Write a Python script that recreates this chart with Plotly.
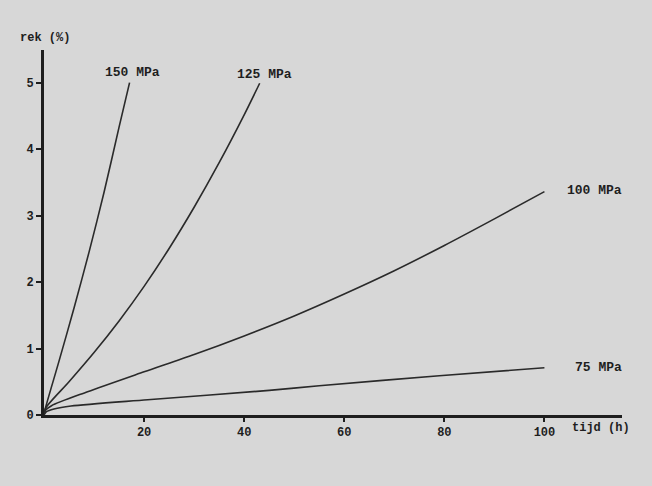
import plotly.graph_objects as go

# ---- data ----
t_150 = [0, 0.2, 3, 6, 9, 12, 15, 17.1]
e_150 = [0, 0.08, 0.81, 1.61, 2.45, 3.35, 4.33, 5.0]

t_125 = [0, 0.3, 5, 10, 15, 20, 25, 30, 35, 40, 43.1]
e_125 = [0, 0.1, 0.5, 0.94, 1.415, 1.935, 2.505, 3.125, 3.795, 4.515, 4.99]

t_100 = [0, 0.3, 1.5, 8.7, 20, 30, 40, 50, 60, 70, 80, 90, 100]
e_100 = [0, 0.07, 0.14, 0.35, 0.65, 0.91, 1.19, 1.49, 1.82, 2.17, 2.55, 2.95, 3.36]

t_75 = [0, 0.5, 2, 5.4, 20.7, 45, 55, 79, 100]
e_75 = [0, 0.05, 0.09, 0.135, 0.23, 0.37, 0.44, 0.59, 0.71]

series_labels = ["150 MPa", "125 MPa", "100 MPa", "75 MPa"]
x_ticks = [20, 40, 60, 80, 100]
y_ticks = [0, 1, 2, 3, 4, 5]

FONT = "Liberation Mono"
INK = "#1e1e1e"
LINE = "#2a2a2a"
BG = "#d7d7d7"

series = [(t_150, e_150), (t_125, e_125), (t_100, e_100), (t_75, e_75)]
# label placement relative to each curve's end point (pixels)
label_pos = [
    dict(xanchor="center", yanchor="middle", xshift=3, yshift=10),
    dict(xanchor="center", yanchor="middle", xshift=5, yshift=9),
    dict(xanchor="left", yanchor="middle", xshift=21, yshift=1),
    dict(xanchor="left", yanchor="middle", xshift=29, yshift=0),
]

fig = go.Figure()
annotations = []
for (t, e), name, lp in zip(series, series_labels, label_pos):
    fig.add_trace(go.Scatter(
        x=t, y=e, mode="lines", name=name,
        line=dict(color=LINE, width=1.6, shape="spline", smoothing=0.8),
        showlegend=False, hoverinfo="x+y+name",
    ))
    annotations.append(dict(
        x=t[-1], y=e[-1], xref="x", yref="y", text="<b>" + name + "</b>", showarrow=False,
        font=dict(family=FONT, size=13, color=INK), **lp,
    ))

annotations.append(dict(
    x=0, y=5.49, xref="x", yref="y", text="<b>rek (%)</b>", showarrow=False,
    xanchor="center", yanchor="bottom", xshift=1, yshift=3,
    font=dict(family=FONT, size=12, color=INK),
))
annotations.append(dict(
    x=115.5, y=0, xref="x", yref="y", text="<b>tijd (h)</b>", showarrow=False,
    xanchor="right", yanchor="top", xshift=10, yshift=-4,
    font=dict(family=FONT, size=12, color=INK),
))

fig.update_layout(
    width=652, height=486,
    margin=dict(l=44, r=30, t=50, b=71),
    paper_bgcolor=BG, plot_bgcolor=BG,
    annotations=annotations,
    xaxis=dict(
        range=[0, 115.5], tickvals=x_ticks, ticktext=["<b>%d</b>" % v for v in x_ticks],
        showgrid=False, zeroline=False, showline=True, linecolor=INK, linewidth=2.5,
        ticks="outside", ticklen=4, tickwidth=2, tickcolor=INK,
        tickfont=dict(family=FONT, size=12, color=INK),
    ),
    yaxis=dict(
        range=[0, 5.49], tickvals=y_ticks, ticktext=["<b>%d</b>" % v for v in y_ticks],
        showgrid=False, zeroline=False, showline=True, linecolor=INK, linewidth=3,
        ticks="outside", ticklen=5, tickwidth=2, tickcolor=INK,
        tickfont=dict(family=FONT, size=12, color=INK),
    ),
)

fig.write_html(
    "out.html",
    config={"displayModeBar": False},
    post_script="document.body.style.margin='0';document.body.style.background='%s';" % BG,
)
